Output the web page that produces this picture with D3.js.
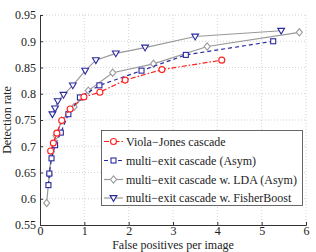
<!DOCTYPE html>
<html><head><meta charset="utf-8">
<script src="https://cdn.jsdelivr.net/npm/d3@7"></script>
<style>body{margin:0;background:#fff}svg{display:block}text{font-family:"Liberation Serif","DejaVu Serif",serif;fill:#222}</style>
</head><body>
<svg id="c" width="316" height="252"></svg>
<script>
const xTicks=[0,1,2,3,4,5,6];
const yTicks=[0.55,0.6,0.65,0.7,0.75,0.8,0.85,0.9,0.95];
const yTickLabels=["0.55","0.6","0.65","0.7","0.75","0.8","0.85","0.9","0.95"];
const seriesNames=["Viola\u2212Jones cascade","multi\u2212exit cascade (Asym)","multi\u2212exit cascade w. LDA (Asym)","multi\u2212exit cascade w. FisherBoost"];
const vjX=[0.24,0.30,0.38,0.49,0.68,0.99,1.35,1.92,2.75,4.10];
const vjY=[0.691,0.706,0.725,0.749,0.771,0.794,0.803,0.826,0.846,0.864];
const asymX=[0.19,0.21,0.26,0.34,0.47,0.64,0.90,1.34,2.29,3.29,5.26];
const asymY=[0.626,0.648,0.677,0.702,0.726,0.761,0.793,0.816,0.844,0.874,0.900];
const ldaX=[0.15,0.21,0.26,0.36,0.49,0.77,1.09,1.64,2.56,3.77,5.85];
const ldaY=[0.592,0.646,0.690,0.720,0.749,0.775,0.806,0.840,0.857,0.890,0.917];
const fbX=[0.28,0.34,0.40,0.53,0.74,1.02,1.26,1.71,2.37,3.50,5.44];
const fbY=[0.761,0.772,0.786,0.798,0.816,0.844,0.864,0.877,0.888,0.909,0.920];

const svg=d3.select("#c");
const L=40,R=306,T=15,B=225;
const x=d3.scaleLinear().domain([0,6]).range([L,R]);
const y=d3.scaleLinear().domain([0.55,0.95]).range([B,T]);

const g=svg.append("g");
g.selectAll(".gx").data(xTicks.slice(1)).enter().append("line")
 .attr("x1",d=>x(d)).attr("x2",d=>x(d)).attr("y1",T).attr("y2",B)
 .attr("stroke","#c8c8c8").attr("stroke-width",0.8).attr("stroke-dasharray","1,2");
g.selectAll(".gy").data(yTicks.slice(1)).enter().append("line")
 .attr("x1",L).attr("x2",R).attr("y1",d=>y(d)).attr("y2",d=>y(d))
 .attr("stroke","#c8c8c8").attr("stroke-width",0.8).attr("stroke-dasharray","1,2");

const xa=svg.append("g").attr("transform",`translate(0,${B})`)
 .call(d3.axisBottom(x).tickValues(xTicks).tickFormat(d3.format("d")).tickSize(-3).tickPadding(1));
const ya=svg.append("g").attr("transform",`translate(${L},0)`)
 .call(d3.axisLeft(y).tickValues(yTicks).tickFormat((d,i)=>yTickLabels[i]).tickSize(-3).tickPadding(4));
[xa,ya].forEach(a=>{a.select(".domain").attr("stroke","#333").attr("stroke-width",1);
 a.selectAll(".tick line").attr("stroke","#333");
 a.selectAll("text").attr("font-size",12).attr("font-family","Liberation Serif").attr("fill","#222");});

svg.append("text").attr("x",(L+R)/2).attr("y",249).attr("text-anchor","middle").attr("font-size",12).text("False positives per image");
svg.append("text").attr("transform",`translate(11,${(T+B)/2}) rotate(-90)`).attr("text-anchor","middle").attr("font-size",12).text("Detection rate");

const series=[
 {xs:vjX,ys:vjY,line:"#ff2020",dash:"5,2,1.5,2",mk:"circle",mc:"#ff2020"},
 {xs:asymX,ys:asymY,line:"#2a2aa8",dash:"4,3",mk:"square",mc:"#2a2aa0"},
 {xs:ldaX,ys:ldaY,line:"#999999",dash:null,mk:"diamond",mc:"#999999"},
 {xs:fbX,ys:fbY,line:"#999999",dash:null,mk:"tri",mc:"#2a2aa0"}
];
const line=d3.line().x(d=>x(d[0])).y(d=>y(d[1]));
function marker(sel,type,col,cx,cy){
 if(type==="circle") sel.append("circle").attr("cx",cx).attr("cy",cy).attr("r",3).attr("fill","#fff").attr("stroke",col).attr("stroke-width",1.1);
 else if(type==="square") sel.append("rect").attr("x",cx-2.5).attr("y",cy-2.5).attr("width",5).attr("height",5).attr("fill","#fff").attr("stroke",col).attr("stroke-width",1.1);
 else if(type==="diamond") sel.append("path").attr("d",`M${cx},${cy-3.6}L${cx+3},${cy}L${cx},${cy+3.6}L${cx-3},${cy}Z`).attr("fill","#fff").attr("stroke",col).attr("stroke-width",1.1);
 else sel.append("path").attr("d",`M${cx-3.4},${cy-2.4}L${cx+3.4},${cy-2.4}L${cx},${cy+3.4}Z`).attr("fill","#fff").attr("stroke",col).attr("stroke-width",1.1);
}
[3,2,1,0].forEach(i=>{
 const s=series[i];
 const pts=s.xs.map((v,j)=>[v,s.ys[j]]);
 const p=svg.append("path").datum(pts).attr("d",line).attr("fill","none").attr("stroke",s.line).attr("stroke-width",1.2);
 if(s.dash) p.attr("stroke-dasharray",s.dash);
 const mg=svg.append("g");
 pts.forEach(d=>marker(mg,s.mk,s.mc,x(d[0]),y(d[1])));
});

const lg=svg.append("g");
lg.append("rect").attr("x",101.5).attr("y",130.5).attr("width",201).attr("height",75).attr("fill","#fff").attr("stroke","#444").attr("stroke-width",0.8);
const rowY=[141.5,160.5,179.5,198];
series.forEach((s,i)=>{
 const ly=rowY[i];
 const ln=lg.append("line").attr("x1",104).attr("x2",123).attr("y1",ly).attr("y2",ly).attr("stroke",s.line).attr("stroke-width",1.2);
 if(s.dash) ln.attr("stroke-dasharray",s.dash);
 marker(lg,s.mk,s.mc,113.5,ly);
 lg.append("text").attr("x",126).attr("y",ly+4).attr("font-size",12).text(seriesNames[i]);
});
</script>
</body></html>
